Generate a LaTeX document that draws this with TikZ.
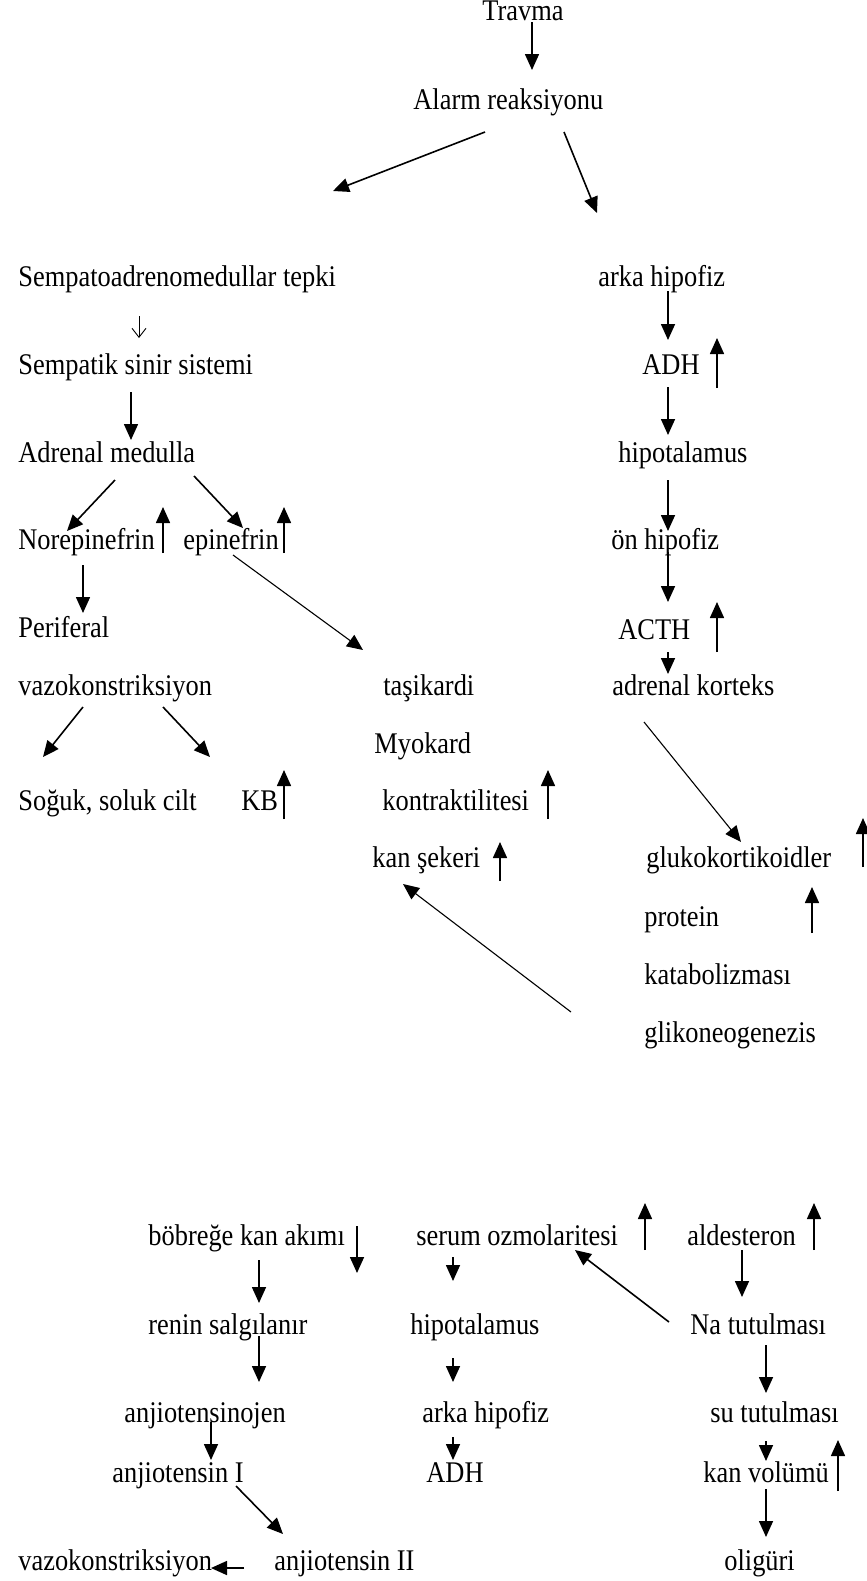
\documentclass[tikz,border=0pt]{standalone}
\usepackage{fontspec}
\setmainfont{Liberation Serif}[FakeStretch=0.88]
\usetikzlibrary{arrows.meta}
\tikzset{
  lbl/.style={anchor=west, inner sep=0pt, text height=10.5pt, text depth=3pt, font=\fontsize{15}{18}\selectfont},
  arr/.style={line width=0.8pt, -{Triangle[length=8pt,width=7pt]}},
  thinline/.style={arr, line width=0.55pt},
  thinarr/.style={line width=0.45pt, -{Straight Barb[length=4.5pt,width=7pt]}},
  uparr/.style={arr}
}
\begin{document}
\begin{tikzpicture}[x=0.5pt,y=-0.5pt]
\useasboundingbox (0,0) rectangle (867,1581);
% --- nodes
\node[lbl] (travma) at (482,13) {Travma};
\node[lbl] (alarm) at (413,102) {Alarm reaksiyonu};
\node[lbl] (sempato) at (18,279) {Sempatoadrenomedullar tepki};
\node[lbl] (arka1) at (598,279) {arka hipofiz};
\node[lbl] (sempatik) at (18,367) {Sempatik sinir sistemi};
\node[lbl] (adh1) at (642,367) {ADH};
\node[lbl] (admed) at (18,455) {Adrenal medulla};
\node[lbl] (hipo1) at (618,455) {hipotalamus};
\node[lbl] (norepi) at (18,542) {Norepinefrin};
\node[lbl] (epi) at (183,542) {epinefrin};
\node[lbl] (onhipo) at (611,542) {ön hipofiz};
\node[lbl] (perif) at (18,630) {Periferal};
\node[lbl] (acth) at (618,632) {ACTH};
\node[lbl] (vazo1) at (18,688) {vazokonstriksiyon};
\node[lbl] (tasi) at (383,688) {taşikardi};
\node[lbl] (adkor) at (612,688) {adrenal korteks};
\node[lbl] (myo) at (374,746) {Myokard};
\node[lbl] (soguk) at (18,803) {Soğuk, soluk cilt};
\node[lbl] (kb) at (241,803) {KB};
\node[lbl] (kontr) at (382,803) {kontraktilitesi};
\node[lbl] (kanseker) at (372,860) {kan şekeri};
\node[lbl] (gluko) at (646,860) {glukokortikoidler};
\node[lbl] (protein) at (644,919) {protein};
\node[lbl] (katab) at (644,977) {katabolizması};
\node[lbl] (gliko) at (644,1035) {glikoneogenezis};
\node[lbl] (bobrek) at (148,1238) {böbreğe kan akımı};
\node[lbl] (serum) at (416,1238) {serum ozmolaritesi};
\node[lbl] (aldes) at (687,1238) {aldesteron};
\node[lbl] (renin) at (148,1327) {renin salgılanır};
\node[lbl] (hipo2) at (410,1327) {hipotalamus};
\node[lbl] (na) at (690,1327) {Na tutulması};
\node[lbl] (anjinojen) at (124,1415) {anjiotensinojen};
\node[lbl] (arka2) at (422,1415) {arka hipofiz};
\node[lbl] (su) at (710,1415) {su tutulması};
\node[lbl] (anj1) at (112,1475) {anjiotensin I};
\node[lbl] (adh2) at (426,1475) {ADH};
\node[lbl] (kanvol) at (703,1475) {kan volümü};
\node[lbl] (vazo2) at (18,1563) {vazokonstriksiyon};
\node[lbl] (anj2) at (274,1563) {anjiotensin II};
\node[lbl] (olig) at (724,1563) {oligüri};
% --- connectors
\draw[arr] (532,22) -- (532,70);
\draw[arr] (485,132) -- (333,191);
\draw[arr] (564,132) -- (597,213);
\draw[thinarr] (139,316) -- (139,338);
\draw[arr] (131,392) -- (131,440);
\draw[arr] (668,291) -- (668,340);
\draw[uparr] (717,388) -- (717,338);
\draw[arr] (668,387) -- (668,435);
\draw[arr] (668,480) -- (668,531);
\draw[arr] (115,480) -- (67,531);
\draw[arr] (194,476) -- (243,528);
\draw[uparr] (163,553) -- (163,507);
\draw[uparr] (284,553) -- (284,507);
\draw[arr] (83,565) -- (83,613);
\draw[thinline] (233,555) -- (363,650);
\draw[arr] (668,552) -- (668,602);
\draw[uparr] (717,652) -- (717,602);
\draw[arr] (668,652) -- (668,674);
\draw[arr] (83,707) -- (43,757);
\draw[arr] (163,707) -- (210,757);
\draw[uparr] (284,819) -- (284,770);
\draw[uparr] (548,819) -- (548,770);
\draw[thinline] (644,722) -- (741,842);
\draw[uparr] (500,881) -- (500,842);
\draw[uparr] (863,867) -- (863,818);
\draw[uparr] (812,933) -- (812,887);
\draw[thinline] (571,1012) -- (403,884);
\draw[arr] (357,1226) -- (357,1273);
\draw[uparr] (645,1250) -- (645,1203);
\draw[uparr] (814,1250) -- (814,1203);
\draw[arr] (259,1260) -- (259,1303);
\draw[arr] (453,1257) -- (453,1281);
\draw[arr] (742,1250) -- (742,1297);
\draw[arr] (669,1322) -- (575,1250);
\draw[arr] (259,1336) -- (259,1382);
\draw[arr] (453,1358) -- (453,1382);
\draw[arr] (766,1345) -- (766,1393);
\draw[arr] (211,1422) -- (211,1460);
\draw[arr] (453,1437) -- (453,1460);
\draw[arr] (766,1441) -- (766,1461);
\draw[uparr] (838,1491) -- (838,1440);
\draw[arr] (236,1486) -- (283,1534);
\draw[arr] (766,1489) -- (766,1537);
\draw[arr] (244,1568) -- (211,1568);
\end{tikzpicture}
\end{document}
